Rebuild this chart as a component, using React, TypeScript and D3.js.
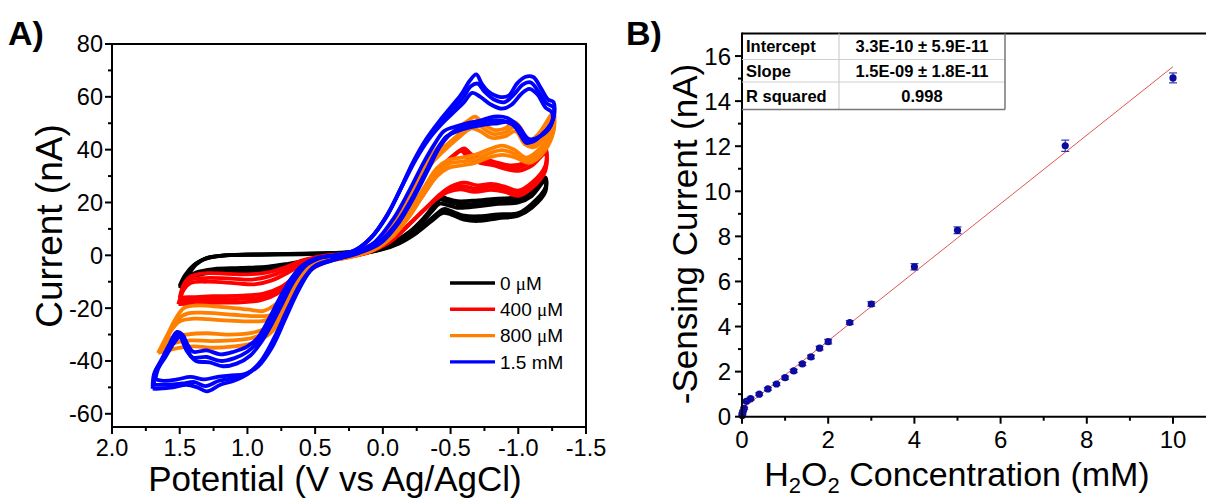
import React from 'react';
import * as d3 from 'd3';

type Pt = [number, number];

// ---------- Panel A: cyclic voltammograms (V vs Ag/AgCl, nA) ----------
const cvBlack: Pt[][] = [
  [[1.50,-12],[1.46,-8],[1.40,-4],[1.32,-1.5],[1.2,-0.2],[1.0,0.3],[0.7,0.5],[0.45,0.8],[0.25,1.2],[0.1,2.0],[-0.05,3.8],[-0.18,7.5],[-0.28,12],[-0.36,16.5],[-0.42,19.5],[-0.48,19],[-0.55,18],[-0.7,18.5],[-0.85,19.5],[-1.0,20],[-1.1,22.5],[-1.2,28.5],[-1.2,24],[-1.1,18],[-1.0,15],[-0.85,14],[-0.7,13],[-0.6,13.5],[-0.5,15.5],[-0.44,16],[-0.36,13],[-0.25,8.5],[-0.12,4.5],[0.02,2],[0.2,0.3],[0.4,-0.8],[0.55,-1.8],[0.7,-3.2],[0.85,-4.3],[1.05,-4.8],[1.25,-5.2],[1.38,-6.5],[1.46,-9],[1.50,-12]],
  [[1.50,-12.5],[1.45,-8.5],[1.38,-3.5],[1.30,-1],[1.15,0],[0.9,0.2],[0.6,0.4],[0.4,0.6],[0.22,1.2],[0.08,2.4],[-0.06,4.6],[-0.2,9],[-0.3,14],[-0.37,18.5],[-0.42,22.5],[-0.47,21.5],[-0.55,20.5],[-0.7,20.8],[-0.85,21.5],[-1.0,22],[-1.1,24.5],[-1.2,29.5],[-1.2,25.5],[-1.1,19.5],[-1.0,16],[-0.85,15.5],[-0.72,14.8],[-0.6,15],[-0.5,16.8],[-0.45,17.5],[-0.36,14],[-0.24,9],[-0.1,4.8],[0.05,2],[0.22,0],[0.42,-1.5],[0.58,-3],[0.72,-4.8],[0.9,-5.8],[1.1,-6.2],[1.28,-6.6],[1.4,-8],[1.47,-10.5],[1.50,-12.5]],
  [[1.50,-11.5],[1.46,-7.5],[1.39,-3.5],[1.31,-1.2],[1.18,-0.1],[0.95,0.3],[0.65,0.5],[0.42,0.7],[0.23,1.2],[0.09,2.2],[-0.06,4.2],[-0.19,8.2],[-0.29,13],[-0.37,17.5],[-0.42,21],[-0.48,20.3],[-0.56,19.3],[-0.7,19.6],[-0.85,20.5],[-1.0,21],[-1.1,23.5],[-1.2,29],[-1.2,25],[-1.1,18.8],[-1.0,15.5],[-0.85,14.8],[-0.71,13.8],[-0.6,14.2],[-0.5,16.2],[-0.44,16.8],[-0.36,13.5],[-0.25,8.8],[-0.11,4.6],[0.03,2],[0.21,0.1],[0.41,-1.1],[0.56,-2.4],[0.71,-4],[0.88,-5],[1.08,-5.5],[1.27,-5.9],[1.39,-7.2],[1.47,-9.8],[1.50,-11.5]],
];

const cvRed: Pt[][] = [
  [[1.50,-16],[1.47,-11],[1.42,-8],[1.32,-6.8],[1.15,-7],[1.0,-7.2],[0.85,-6.5],[0.72,-4.5],[0.6,-2],[0.45,-0.3],[0.3,0.5],[0.15,2],[0.02,5],[-0.1,10],[-0.2,16],[-0.3,23],[-0.38,29],[-0.46,34],[-0.53,38],[-0.58,39.5],[-0.63,37],[-0.72,35],[-0.82,34],[-0.92,32.5],[-1.0,32],[-1.1,34],[-1.2,38.5],[-1.2,32],[-1.1,25.5],[-1.0,22.5],[-0.9,24],[-0.8,24.8],[-0.68,24],[-0.57,25],[-0.48,24],[-0.4,21.5],[-0.3,17],[-0.18,11],[-0.05,5],[0.1,1.5],[0.25,-0.5],[0.42,-2],[0.55,-4],[0.65,-8],[0.75,-12],[0.88,-14.5],[1.05,-15.3],[1.25,-15.5],[1.4,-15.8],[1.50,-16]],
  [[1.51,-18.5],[1.47,-13],[1.42,-10.5],[1.3,-10],[1.1,-10.5],[0.95,-11],[0.82,-9.5],[0.7,-6.5],[0.58,-3],[0.45,-0.8],[0.3,0.3],[0.15,2.5],[0.0,6.5],[-0.12,12.5],[-0.22,19],[-0.32,26],[-0.4,31.5],[-0.48,36],[-0.55,39],[-0.6,40.5],[-0.66,38],[-0.75,36.5],[-0.85,35],[-0.95,34],[-1.05,35],[-1.13,37.5],[-1.2,40.5],[-1.2,34],[-1.1,27.5],[-1.0,24.5],[-0.9,26],[-0.8,27],[-0.7,26.5],[-0.6,27.5],[-0.5,26],[-0.42,23],[-0.32,18],[-0.2,12],[-0.06,5.5],[0.1,1.2],[0.28,-1],[0.45,-2.5],[0.58,-5],[0.68,-10],[0.78,-14.5],[0.9,-17],[1.05,-17.8],[1.25,-18],[1.42,-18.3],[1.51,-18.5]],
  [[1.50,-17.2],[1.47,-12],[1.42,-9.2],[1.31,-8.6],[1.12,-8.8],[0.97,-9.2],[0.84,-8],[0.71,-5.5],[0.59,-2.5],[0.45,-0.5],[0.3,0.4],[0.15,2.2],[0.01,5.8],[-0.11,11.2],[-0.21,17.5],[-0.31,24.5],[-0.39,30.2],[-0.47,35],[-0.54,38.5],[-0.59,40],[-0.64,37.5],[-0.73,35.8],[-0.83,34.5],[-0.93,33.2],[-1.02,33.5],[-1.11,35.8],[-1.2,39.5],[-1.2,33],[-1.1,26.5],[-1.0,23.5],[-0.9,25],[-0.8,26],[-0.69,25.2],[-0.58,26.2],[-0.49,25],[-0.41,22.2],[-0.31,17.5],[-0.19,11.5],[-0.05,5.2],[0.1,1.3],[0.27,-0.8],[0.44,-2.2],[0.57,-4.5],[0.67,-9],[0.77,-13.2],[0.89,-15.8],[1.05,-16.5],[1.25,-16.8],[1.41,-17],[1.50,-17.2]],
];

const cvOrange: Pt[][] = [
  [[1.66,-37],[1.6,-31],[1.53,-24],[1.47,-20],[1.38,-19],[1.2,-19.5],[1.0,-20.5],[0.88,-21],[0.78,-18],[0.68,-12],[0.58,-5],[0.48,-1.5],[0.35,0],[0.2,1.2],[0.06,4.5],[-0.06,11],[-0.16,20],[-0.26,30],[-0.36,38],[-0.46,44],[-0.55,48],[-0.63,51],[-0.68,52.5],[-0.74,50],[-0.82,47.5],[-0.9,48],[-0.97,50.5],[-1.02,48],[-1.07,43],[-1.15,46],[-1.26,54],[-1.26,48.5],[-1.17,41],[-1.06,37],[-0.97,40],[-0.88,41.5],[-0.78,40],[-0.68,38],[-0.58,37],[-0.48,36],[-0.4,33],[-0.32,27],[-0.22,18.5],[-0.1,9.5],[0.05,3],[0.22,-0.3],[0.4,-2],[0.52,-4.5],[0.62,-11],[0.72,-21],[0.82,-29],[0.95,-33],[1.1,-34.5],[1.25,-35],[1.4,-34.5],[1.55,-35.5],[1.66,-37]],
  [[1.62,-34],[1.57,-29],[1.5,-25],[1.4,-24],[1.2,-24.5],[1.0,-25],[0.86,-24.5],[0.76,-20],[0.66,-13],[0.56,-6],[0.46,-2],[0.33,0],[0.18,1.5],[0.04,5.5],[-0.08,12.5],[-0.18,21],[-0.28,29.5],[-0.38,36],[-0.48,41],[-0.57,45],[-0.65,48],[-0.72,47],[-0.8,44.5],[-0.9,45],[-0.98,47],[-1.05,42],[-1.12,41],[-1.2,45],[-1.26,50],[-1.25,45],[-1.17,38],[-1.08,35],[-0.98,37],[-0.88,38],[-0.78,37],[-0.68,35],[-0.58,34],[-0.48,33],[-0.4,30],[-0.3,23],[-0.2,15],[-0.08,7.5],[0.07,2],[0.25,-0.8],[0.42,-2.5],[0.54,-6],[0.64,-13],[0.74,-21],[0.84,-27],[0.98,-29.5],[1.15,-30],[1.3,-29.5],[1.45,-30],[1.57,-31.5],[1.62,-34]],
  [[1.64,-35.5],[1.58,-30],[1.52,-24.5],[1.44,-22],[1.3,-21.8],[1.1,-22.5],[0.95,-23],[0.82,-22.5],[0.72,-17.5],[0.62,-9],[0.52,-3.5],[0.4,-0.8],[0.27,0.5],[0.13,2.5],[0.0,7.5],[-0.12,15.5],[-0.22,25],[-0.32,33.5],[-0.42,39.5],[-0.52,44],[-0.6,47.5],[-0.67,50.2],[-0.73,48.5],[-0.81,46],[-0.9,46.5],[-0.98,48.8],[-1.04,45],[-1.1,42],[-1.18,45.5],[-1.26,52],[-1.26,47],[-1.17,39.5],[-1.07,36],[-0.97,38.5],[-0.88,39.8],[-0.78,38.5],[-0.68,36.5],[-0.58,35.5],[-0.48,34.5],[-0.4,31.5],[-0.31,25],[-0.21,16.8],[-0.09,8.5],[0.06,2.5],[0.24,-0.5],[0.41,-2.2],[0.53,-5.2],[0.63,-12],[0.73,-21],[0.83,-28],[0.96,-31.2],[1.12,-32.2],[1.27,-32.5],[1.42,-32.2],[1.56,-33.5],[1.64,-35.5]],
];

const cvBlue: Pt[][] = [
  [[1.70,-50.5],[1.69,-45],[1.64,-40],[1.58,-34],[1.52,-29],[1.48,-30],[1.44,-34],[1.4,-36.5],[1.3,-36],[1.2,-37.5],[1.1,-36.5],[1.0,-34.5],[0.92,-31],[0.84,-24],[0.76,-16],[0.68,-9],[0.6,-4],[0.5,-1.2],[0.36,0],[0.22,1.5],[0.1,6],[-0.02,14],[-0.12,24],[-0.22,35],[-0.32,44],[-0.42,51],[-0.5,56],[-0.58,61],[-0.64,66],[-0.69,68.5],[-0.73,65],[-0.78,62],[-0.86,60],[-0.93,60.5],[-0.99,65],[-1.05,67.5],[-1.11,67.5],[-1.17,63],[-1.22,59],[-1.26,58],[-1.26,52],[-1.2,47],[-1.13,44],[-1.06,42.5],[-1.0,47],[-0.94,50.5],[-0.85,50],[-0.75,49.5],[-0.65,48.5],[-0.55,47],[-0.47,45],[-0.4,40],[-0.32,32],[-0.22,22],[-0.1,12],[0.04,4.5],[0.2,0.5],[0.36,-1.5],[0.5,-4],[0.6,-10],[0.7,-20],[0.8,-31],[0.9,-40],[1.0,-45],[1.1,-47.5],[1.2,-49],[1.3,-51.5],[1.37,-50],[1.45,-49],[1.55,-50],[1.65,-50.5],[1.70,-50.5]],
  [[1.68,-47],[1.66,-43],[1.6,-38],[1.54,-33],[1.5,-31],[1.45,-36],[1.38,-40],[1.28,-40.5],[1.18,-42],[1.08,-41],[0.98,-38],[0.9,-33],[0.82,-26],[0.74,-18],[0.66,-10],[0.56,-3.5],[0.45,-0.8],[0.32,0.2],[0.2,2],[0.08,7],[-0.04,16],[-0.14,26],[-0.24,36],[-0.34,44],[-0.44,50],[-0.52,54],[-0.6,58],[-0.66,61.5],[-0.72,60],[-0.8,57],[-0.88,55.5],[-0.95,57],[-1.02,61],[-1.08,63],[-1.14,61],[-1.2,56],[-1.25,54],[-1.24,49],[-1.16,45],[-1.08,44],[-1.0,49],[-0.92,52],[-0.82,52.5],[-0.72,51],[-0.62,50],[-0.52,48.5],[-0.45,47],[-0.38,42],[-0.3,35],[-0.2,25],[-0.08,14],[0.06,5],[0.22,0.5],[0.38,-2],[0.52,-5],[0.62,-13],[0.72,-24],[0.82,-35],[0.92,-42],[1.02,-45],[1.12,-45.5],[1.22,-46],[1.32,-47],[1.42,-46],[1.52,-47],[1.62,-47.5],[1.68,-47]],
  [[1.69,-49],[1.68,-44],[1.62,-39],[1.56,-33.5],[1.51,-30],[1.46,-33],[1.41,-38.5],[1.3,-38.5],[1.2,-40],[1.1,-39],[1.0,-36.5],[0.91,-32],[0.83,-25],[0.75,-17],[0.67,-9.5],[0.58,-3.8],[0.47,-1],[0.34,0.1],[0.21,1.8],[0.09,6.5],[-0.03,15],[-0.13,25],[-0.23,35.5],[-0.33,44],[-0.43,50.5],[-0.51,55],[-0.59,59.5],[-0.65,64],[-0.7,65],[-0.75,62],[-0.82,59],[-0.9,58],[-0.97,61],[-1.03,64.5],[-1.09,65.5],[-1.15,62],[-1.21,57.5],[-1.26,56],[-1.25,50.5],[-1.18,46],[-1.1,43],[-1.03,45],[-0.97,49],[-0.88,51],[-0.78,51],[-0.68,49.5],[-0.58,48.5],[-0.5,46],[-0.42,41],[-0.34,33],[-0.24,23],[-0.12,12.5],[0.02,4.5],[0.2,0.5],[0.37,-1.8],[0.51,-4.5],[0.61,-11.5],[0.71,-22],[0.81,-33],[0.91,-41],[1.01,-45],[1.11,-46.5],[1.21,-47.5],[1.31,-49.5],[1.39,-48],[1.48,-48.5],[1.58,-49],[1.69,-49]],
];

const legendLabels = ['0 ', '400 ', '800 ', '1.5 mM'];
const legendMicro = [true, true, true, false];
const cvColors = ['#000000', '#ff0000', '#ff8000', '#0000ff'];
const potentialTicks = [2.0, 1.5, 1.0, 0.5, 0.0, -0.5, -1.0, -1.5];
const potentialMinor = [1.75, 1.25, 0.75, 0.25, -0.25, -0.75, -1.25];
const currentTicksA = [-60, -40, -20, 0, 20, 40, 60, 80];
const currentMinorA = [-50, -30, -10, 10, 30, 50, 70];

// ---------- Panel B: calibration ----------
const concentration = [0.005, 0.01, 0.025, 0.05, 0.1, 0.2, 0.4, 0.6, 0.8, 1.0, 1.2, 1.4, 1.6, 1.8, 2.0, 2.5, 3.0, 4.0, 5.0, 7.5, 10];
const sensingCurrent = [0.05, 0.15, 0.25, 0.37, 0.68, 0.8, 1.0, 1.23, 1.45, 1.73, 2.03, 2.34, 2.65, 3.04, 3.33, 4.18, 5.0, 6.65, 8.27, 12.02, 15.03];
const sensingError = [0.03, 0.03, 0.03, 0.05, 0.06, 0.06, 0.06, 0.06, 0.06, 0.07, 0.07, 0.07, 0.08, 0.08, 0.1, 0.08, 0.1, 0.14, 0.15, 0.25, 0.22];
const fitIntercept = 0.33;
const fitSlope = 1.52;
const fitRange = [0, 10];
const concTicks = [0, 2, 4, 6, 8, 10];
const concMinor = [1, 3, 5, 7, 9, 11];
const currentTicksB = [0, 2, 4, 6, 8, 10, 12, 14, 16];
const currentMinorB = [1, 3, 5, 7, 9, 11, 13, 15];
const tableLabels = ['Intercept', 'Slope', 'R squared'];
const tableValues = ['3.3E-10 ± 5.9E-11', '1.5E-09 ± 1.8E-11', '0.998'];

const FONT = "'Liberation Sans', Arial, Helvetica, sans-serif";

export default function App() {
  const xA = d3.scaleLinear().domain([2.0, -1.5]).range([112, 586]);
  const yA = d3.scaleLinear().domain([-65, 80]).range([427, 44]);
  const lineA = d3.line<Pt>().x(d => xA(d[0])).y(d => yA(d[1])).curve(d3.curveCatmullRom.alpha(0.5));

  const xB = d3.scaleLinear().domain([0, 11]).range([742, 742 + 11 * 43.1]);
  const yB = d3.scaleLinear().domain([0, 17]).range([416.7, 33.5]);

  const groups = [cvBlack, cvRed, cvOrange, cvBlue];

  const tableTop = yB(17);
  const rowEdges = [tableTop, 59.5, 82, 109.5];
  const colX = [xB(0), 839, 1005];

  return (
    <svg width={1206} height={499} style={{ position: 'absolute', left: 0, top: 0, background: '#fff' }} fontFamily={FONT}>
      <rect x={0} y={0} width={1206} height={499} fill="#fff" />
      {/* ================= Panel A ================= */}
      <text x={8} y={45} fontSize={34} fontWeight="bold">A)</text>
      <g>
        {groups.map((cycles, gi) => (
          <g key={gi}>
            {cycles.map((c, ci) => (
              <path key={ci} d={lineA(c) || ''} fill="none" stroke={cvColors[gi]} strokeWidth={3.8} strokeLinejoin="round" />
            ))}
          </g>
        ))}
      </g>
      <rect x={xA(2.0)} y={yA(80)} width={xA(-1.5) - xA(2.0)} height={yA(-65) - yA(80)} fill="none" stroke="#000" strokeWidth={2} />
      {currentTicksA.map(t => (
        <g key={'ya' + t}>
          <line x1={xA(2.0) - 7} x2={xA(2.0)} y1={yA(t)} y2={yA(t)} stroke="#000" strokeWidth={2} />
          <text x={103} y={yA(t)} dy="0.36em" textAnchor="end" fontSize={23.5}>{t}</text>
        </g>
      ))}
      {currentMinorA.map(t => (
        <line key={'yam' + t} x1={xA(2.0) - 4} x2={xA(2.0)} y1={yA(t)} y2={yA(t)} stroke="#000" strokeWidth={2} />
      ))}
      {potentialTicks.map(t => (
        <g key={'xa' + t}>
          <line x1={xA(t)} x2={xA(t)} y1={yA(-65)} y2={yA(-65) + 7} stroke="#000" strokeWidth={2} />
          <text x={xA(t)} y={456} textAnchor="middle" fontSize={23.5}>{t.toFixed(1)}</text>
        </g>
      ))}
      {potentialMinor.map(t => (
        <line key={'xam' + t} x1={xA(t)} x2={xA(t)} y1={yA(-65)} y2={yA(-65) + 4} stroke="#000" strokeWidth={2} />
      ))}
      <text transform="translate(62,226) rotate(-90)" textAnchor="middle" fontSize={37}>Current (nA)</text>
      <text x={335} y={491} textAnchor="middle" fontSize={35}>Potential (V vs Ag/AgCl)</text>
      {legendLabels.map((lab, i) => {
        const y = 283 + i * 26.3;
        return (
          <g key={'lg' + i}>
            <line x1={450} x2={495} y1={y} y2={y} stroke={cvColors[i]} strokeWidth={3.4} />
            <text x={500} y={y} dy="0.36em" fontSize={19}>
              {lab}
              {legendMicro[i] ? <tspan fontFamily="'Liberation Serif', 'Times New Roman', serif">μ</tspan> : null}
              {legendMicro[i] ? 'M' : null}
            </text>
          </g>
        );
      })}

      {/* ================= Panel B ================= */}
      <text x={626} y={45} fontSize={34} fontWeight="bold">B)</text>
      <line x1={xB(fitRange[0])} y1={yB(fitIntercept + fitSlope * fitRange[0])} x2={xB(fitRange[1])} y2={yB(fitIntercept + fitSlope * fitRange[1])} stroke="#e05555" strokeWidth={1} />
      {concentration.map((c, i) => {
        const x = xB(c);
        const y0 = yB(sensingCurrent[i] - sensingError[i]);
        const y1 = yB(sensingCurrent[i] + sensingError[i]);
        return (
          <g key={'pt' + i}>
            <line x1={x} x2={x} y1={y0} y2={y1} stroke="#3636a8" strokeWidth={1.2} />
            <line x1={x - 4} x2={x + 4} y1={y0} y2={y0} stroke="#3636a8" strokeWidth={1.2} />
            <line x1={x - 4} x2={x + 4} y1={y1} y2={y1} stroke="#3636a8" strokeWidth={1.2} />
            <circle cx={x} cy={yB(sensingCurrent[i])} r={3.6} fill="#0b0ba0" />
          </g>
        );
      })}
      <line x1={xB(0)} x2={1206} y1={yB(17)} y2={yB(17)} stroke="#000" strokeWidth={2} />
      <line x1={xB(0)} x2={1206} y1={yB(0)} y2={yB(0)} stroke="#000" strokeWidth={2} />
      <line x1={xB(0)} x2={xB(0)} y1={yB(17) - 1} y2={yB(0) + 1} stroke="#000" strokeWidth={2} />
      {currentTicksB.map(t => (
        <g key={'yb' + t}>
          <line x1={xB(0) - 7} x2={xB(0)} y1={yB(t)} y2={yB(t)} stroke="#000" strokeWidth={2} />
          <text x={731} y={yB(t)} dy="0.36em" textAnchor="end" fontSize={24}>{t}</text>
        </g>
      ))}
      {currentMinorB.map(t => (
        <line key={'ybm' + t} x1={xB(0) - 4} x2={xB(0)} y1={yB(t)} y2={yB(t)} stroke="#000" strokeWidth={2} />
      ))}
      {concTicks.map(t => (
        <g key={'xb' + t}>
          <line x1={xB(t)} x2={xB(t)} y1={yB(0)} y2={yB(0) + 7} stroke="#000" strokeWidth={2} />
          <text x={xB(t)} y={448} textAnchor="middle" fontSize={24}>{t}</text>
        </g>
      ))}
      {concMinor.map(t => (
        <line key={'xbm' + t} x1={xB(t)} x2={xB(t)} y1={yB(0)} y2={yB(0) + 4} stroke="#000" strokeWidth={2} />
      ))}
      <text transform="translate(697,234) rotate(-90)" textAnchor="middle" fontSize={35}>-Sensing Current (nA)</text>
      <text x={957} y={486} textAnchor="middle" fontSize={34}>
        H<tspan fontSize={22} dy={7}>2</tspan><tspan dy={-7}>O</tspan><tspan fontSize={22} dy={7}>2</tspan><tspan dy={-7}> Concentration (mM)</tspan>
      </text>
      <g>
        {[1, 2].map(r => (
          <line key={'tr' + r} x1={colX[0]} x2={colX[2]} y1={rowEdges[r]} y2={rowEdges[r]} stroke="#cfcfcf" strokeWidth={1.2} />
        ))}
        <line x1={colX[1]} x2={colX[1]} y1={rowEdges[0]} y2={rowEdges[3]} stroke="#cfcfcf" strokeWidth={1.2} />
        <line x1={colX[0]} x2={colX[2]} y1={rowEdges[3]} y2={rowEdges[3]} stroke="#777" strokeWidth={1.5} />
        <line x1={colX[2]} x2={colX[2]} y1={rowEdges[0]} y2={rowEdges[3]} stroke="#777" strokeWidth={1.5} />
        {tableLabels.map((lab, r) => (
          <text key={'tl' + r} x={746} y={(rowEdges[r] + rowEdges[r + 1]) / 2} dy="0.36em" fontSize={16.5} fontWeight="bold">{lab}</text>
        ))}
        {tableValues.map((v, r) => (
          <text key={'tv' + r} x={(colX[1] + colX[2]) / 2} y={(rowEdges[r] + rowEdges[r + 1]) / 2} dy="0.36em" textAnchor="middle" fontSize={16.5} fontWeight="bold">{v}</text>
        ))}
      </g>
    </svg>
  );
}
